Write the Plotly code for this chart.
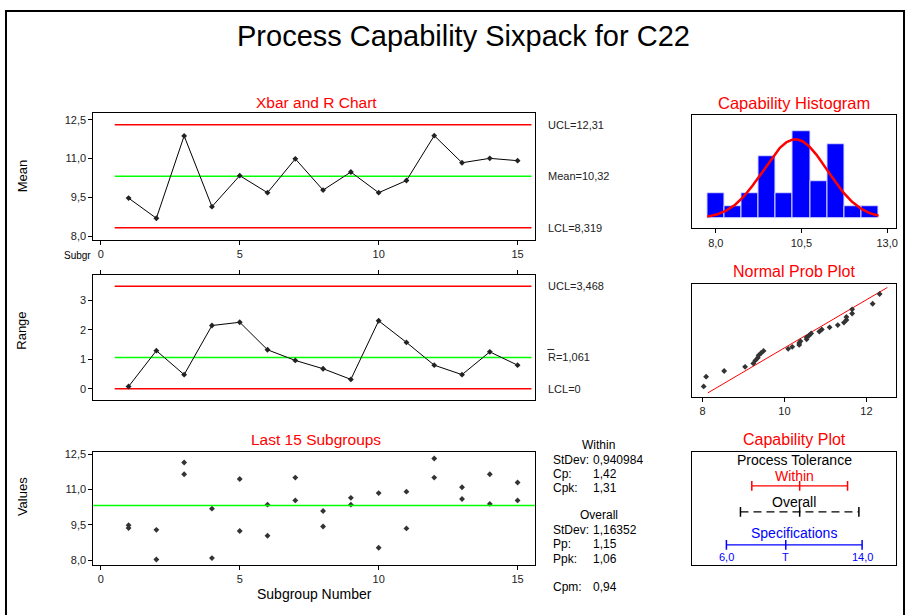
import numpy as np
import plotly.graph_objects as go
from statistics import NormalDist

W, H = 911, 615
FONT = "Liberation Sans, Arial, sans-serif"
RED = "#ff0000"
GREEN = "#00ff00"
BLUE = "#0000ff"

subgroups = list(range(1, 16))
xbar = [9.47, 8.69, 11.88, 9.14, 10.34, 9.68, 10.99, 9.78, 10.48, 9.68,
        10.15, 11.89, 10.84, 11.01, 10.92]
ranges = [0.08, 1.29, 0.48, 2.14, 2.25, 1.32, 0.96, 0.68, 0.32, 2.30,
          1.57, 0.80, 0.48, 1.25, 0.80]
obs_high = [9.49, 9.29, 12.15, 10.19, 11.45, 10.36, 11.51, 10.09, 10.65, 10.85,
            10.91, 12.32, 11.10, 11.65, 11.30]
obs_low = [9.37, 8.03, 11.65, 8.09, 9.24, 9.04, 10.54, 9.43, 10.36, 8.53,
           9.35, 11.51, 10.60, 10.39, 10.54]

xbar_ucl, xbar_center, xbar_lcl = 12.31, 10.32, 8.319
r_ucl, r_center, r_lcl = 3.468, 1.061, 0.0

process_mean = 10.32
sd_within = 0.940984
sd_overall = 1.16352
lsl, target, usl = 6.0, 9.5, 14.0

within_stats = [("StDev:", "0,940984"), ("Cp:", "1,42"), ("Cpk:", "1,31")]
overall_stats = [("StDev:", "1,16352"), ("Pp:", "1,15"), ("Ppk:", "1,06")]
cpm_text = ("Cpm:", "0,94")


def px(p):
    return p / W


def py(p):
    return 1 - p / H


all_obs = obs_high + obs_low
fig = go.Figure()

# ---- Xbar chart
limit_x = [subgroups[0] - 0.5, subgroups[-1] + 0.5]
for val, col in [(xbar_ucl, RED), (xbar_center, GREEN), (xbar_lcl, RED)]:
    fig.add_trace(go.Scatter(x=limit_x, y=[val, val], mode="lines",
                             line=dict(color=col, width=1.5), xaxis="x", yaxis="y"))
fig.add_trace(go.Scatter(x=subgroups, y=xbar, mode="lines+markers",
                         line=dict(color="black", width=1),
                         marker=dict(symbol="diamond", size=4.5, color="#222"),
                         xaxis="x", yaxis="y"))

# ---- R chart
for val, col in [(r_ucl, RED), (r_center, GREEN), (r_lcl, RED)]:
    fig.add_trace(go.Scatter(x=limit_x, y=[val, val], mode="lines",
                             line=dict(color=col, width=1.5), xaxis="x2", yaxis="y2"))
fig.add_trace(go.Scatter(x=subgroups, y=ranges, mode="lines+markers",
                         line=dict(color="black", width=1),
                         marker=dict(symbol="diamond", size=4.5, color="#222"),
                         xaxis="x2", yaxis="y2"))

# ---- last 15 subgroups
fig.add_shape(type="line", xref="x3 domain", yref="y3", x0=0, x1=1,
              y0=process_mean, y1=process_mean, line=dict(color=GREEN, width=1.5))
fig.add_trace(go.Scatter(x=subgroups + subgroups, y=all_obs, mode="markers",
                         marker=dict(symbol="diamond", size=4.5, color="#333"),
                         xaxis="x3", yaxis="y3"))

# ---- capability histogram
fig.add_trace(go.Histogram(x=all_obs, xbins=dict(start=7.75, end=12.75, size=0.5),
                           marker=dict(color=BLUE, line=dict(color="#d8d8ff", width=1)),
                           xaxis="x4", yaxis="y4"))
nd_within = NormalDist(process_mean, sd_within)
curve_x = np.linspace(7.75, 12.75, 200)
curve_y = [len(all_obs) * 0.5 * nd_within.pdf(v) for v in curve_x]
fig.add_trace(go.Scatter(x=curve_x, y=curve_y, mode="lines",
                         line=dict(color=RED, width=2.5), xaxis="x4", yaxis="y4"))

# ---- normal probability plot
sorted_obs = sorted(all_obs)
n = len(sorted_obs)
scores = [NormalDist().inv_cdf((i + 1 - 0.375) / (n + 0.25)) for i in range(n)]
z99 = NormalDist().inv_cdf(0.99)
fig.add_trace(go.Scatter(x=[nd_within.inv_cdf(0.01), nd_within.inv_cdf(0.99)], y=[-z99, z99],
                         mode="lines", line=dict(color=RED, width=1), xaxis="x5", yaxis="y5"))
fig.add_trace(go.Scatter(x=sorted_obs, y=scores, mode="markers",
                         marker=dict(symbol="diamond", size=4.5, color="#333"),
                         xaxis="x5", yaxis="y5"))

# ---- capability plot
tick_marker = lambda col: dict(symbol="line-ns", size=7, line=dict(color=col, width=1.5))
fig.add_trace(go.Scatter(x=[process_mean - 3 * sd_within, process_mean, process_mean + 3 * sd_within],
                         y=[0.70] * 3, mode="lines+markers", line=dict(color=RED, width=1.2),
                         marker=tick_marker(RED), xaxis="x6", yaxis="y6"))
fig.add_trace(go.Scatter(x=[process_mean - 3 * sd_overall, process_mean, process_mean + 3 * sd_overall],
                         y=[0.47] * 3, mode="lines+markers",
                         line=dict(color="black", width=1.2, dash="8px,5px"),
                         marker=tick_marker("black"), xaxis="x6", yaxis="y6"))
fig.add_trace(go.Scatter(x=[lsl, target, usl], y=[0.18] * 3, mode="lines+markers",
                         line=dict(color=BLUE, width=1.2),
                         marker=tick_marker(BLUE), xaxis="x6", yaxis="y6"))

# ---- axes
box = dict(showline=True, mirror=True, linecolor="black", linewidth=1,
           showgrid=False, zeroline=False, ticks="outside", ticklen=4,
           tickcolor="black", tickfont=dict(family=FONT, size=11, color="#222"))
nobox_ticks = dict(ticks="", showticklabels=False)

left_dom = [px(93.5), px(536)]
right_dom = [px(694), px(898)]
sub_range = [-0.27, 15.62]

fig.update_layout(
    xaxis=dict(**box, domain=left_dom, range=sub_range, tickvals=[0, 5, 10, 15], anchor="y"),
    yaxis=dict(**box, domain=[py(238), py(110.4)], range=[7.86, 12.754],
               tickvals=[8, 9.5, 11, 12.5], tickformat=".1f", anchor="x"),
    xaxis2=dict(**box, domain=left_dom, range=sub_range, tickvals=[0, 5, 10, 15],
                side="top", showticklabels=False, anchor="y2"),
    yaxis2=dict(**box, domain=[py(400), py(273.3)], range=[-0.38, 3.86],
                tickvals=[0, 1, 2, 3], anchor="x2"),
    xaxis3=dict(**box, domain=left_dom, range=sub_range, tickvals=[0, 5, 10, 15], anchor="y3"),
    yaxis3=dict(**box, domain=[py(566.7), py(452.3)], range=[7.79, 12.6],
                tickvals=[8, 9.5, 11, 12.5], tickformat=".1f", anchor="x3"),
    xaxis4=dict(**box, domain=right_dom, range=[7.32, 13.26], tickvals=[8, 10.5, 13],
                tickformat=".1f", anchor="y4"),
    yaxis4=dict(**{**box, **nobox_ticks}, domain=[py(226.7), py(112.3)], range=[-0.8, 8.3],
                anchor="x4"),
    xaxis5=dict(**box, domain=right_dom, range=[7.757, 12.72], tickvals=[8, 10, 12], anchor="y5"),
    yaxis5=dict(**{**box, **nobox_ticks}, domain=[py(396.7), py(282.3)], range=[-2.5, 2.5],
                anchor="x5"),
    xaxis6=dict(**{**box, **nobox_ticks}, domain=right_dom, range=[4, 16], anchor="y6"),
    yaxis6=dict(**{**box, **nobox_ticks}, domain=[py(566.7), py(452.3)], range=[0, 1],
                anchor="x6"),
)

# ---- text
ann = []


def text(x, y, s, size=11, color="black", xanchor="center", **kw):
    ann.append(dict(x=x, y=y, text=s, showarrow=False, xanchor=xanchor, yanchor="middle",
                    font=dict(family=FONT, size=size, color=color), **kw))


text(px(465), py(32), "Process Capability Sixpack for C22", size=29)
text(px(317), py(99), "Xbar and R Chart", size=15.5, color=RED)
text(px(317), py(440), "Last 15 Subgroups", size=15.5, color=RED)
text(px(796), py(100), "Capability Histogram", size=16.5, color=RED)
text(px(796), py(270), "Normal Prob Plot", size=16, color=RED)
text(px(796), py(440), "Capability Plot", size=16, color=RED)

for label, ypos in [("Mean", 173), ("Range", 330), ("Values", 497)]:
    text(px(22), py(ypos), label, size=13, textangle=-90)
text(px(78), py(254), "Subgr", size=10)
text(px(315), py(596), "Subgroup Number", size=14)

for s, val, yr in [(f"UCL={xbar_ucl:g}", xbar_ucl, "y"), (f"Mean={xbar_center:g}", xbar_center, "y"),
                   (f"LCL={xbar_lcl:g}", xbar_lcl, "y"), (f"UCL={r_ucl:g}", r_ucl, "y2"),
                   (f"R={r_center:g}", r_center, "y2"), (f"LCL={r_lcl:g}", r_lcl, "y2")]:
    ann.append(dict(x=px(547), y=val, xref="paper", yref=yr, text=s.replace(".", ","),
                    showarrow=False, xanchor="left", yanchor="middle",
                    font=dict(family=FONT, size=11, color="#222")))

# summary statistics block
ST = 12
text(px(600), py(445), "Within", size=ST)
for i, (lab, val) in enumerate(within_stats):
    text(px(552), py(460 + 14.5 * i), lab, size=ST, xanchor="left")
    text(px(592), py(460 + 14.5 * i), val, size=ST, xanchor="left")
text(px(600), py(516), "Overall", size=ST)
for i, (lab, val) in enumerate(overall_stats):
    text(px(552), py(531 + 14.5 * i), lab, size=ST, xanchor="left")
    text(px(592), py(531 + 14.5 * i), val, size=ST, xanchor="left")
text(px(552), py(589), cpm_text[0], size=ST, xanchor="left")
text(px(592), py(589), cpm_text[1], size=ST, xanchor="left")

# capability plot labels
for s, yv, col in [("Process Tolerance", 0.925, "black"), ("Within", 0.785, RED),
                   ("Overall", 0.56, "black"), ("Specifications", 0.28, BLUE)]:
    ann.append(dict(x=0.5, y=yv, xref="x6 domain", yref="y6", text=s, showarrow=False,
                    yanchor="middle", font=dict(family=FONT, size=14, color=col)))
for s, xv in [(f"{lsl:.1f}".replace(".", ","), lsl), ("T", target), (f"{usl:.1f}".replace(".", ","), usl)]:
    ann.append(dict(x=xv, y=0.075, xref="x6", yref="y6", text=s, showarrow=False,
                    yanchor="middle", font=dict(family=FONT, size=11, color=BLUE)))

for a in ann:
    a.setdefault("xref", "paper")
    a.setdefault("yref", "paper")

# bar over the R in the R-bar label
fig.add_shape(type="line", xref="paper", yref="y2", x0=px(548.5), x1=px(555.5),
              y0=r_center + 0.27, y1=r_center + 0.27, line=dict(color="#222", width=1))
# outer frame
fig.add_shape(type="rect", xref="paper", yref="paper", x0=px(6), x1=px(906), y0=py(625), y1=py(7),
              line=dict(color="black", width=2))

fig.update_layout(
    width=W, height=H, margin=dict(l=0, r=0, t=0, b=0),
    paper_bgcolor="white", plot_bgcolor="white", showlegend=False,
    separators=", ", bargap=0, annotations=ann,
    font=dict(family=FONT),
)

fig.write_html("out.html", config={"displayModeBar": False},
               post_script="document.body.style.margin='0';")
